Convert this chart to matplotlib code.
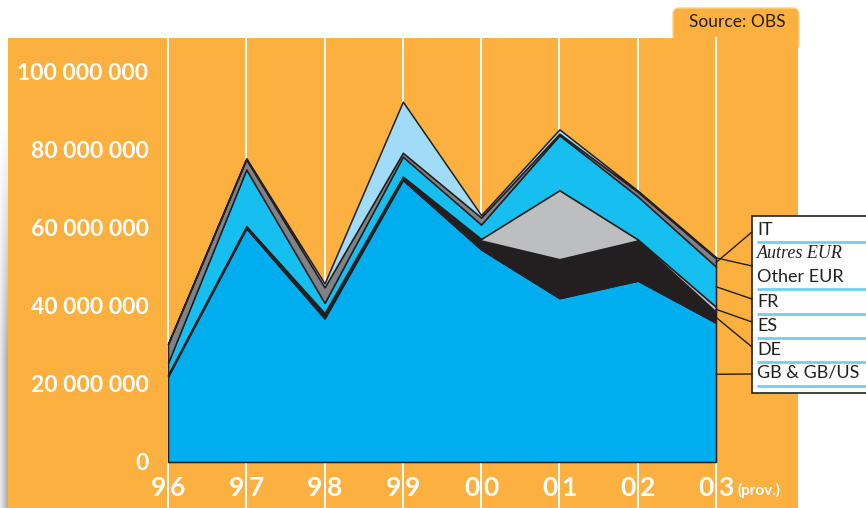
import numpy as np
import matplotlib
matplotlib.use("Agg")
import matplotlib.pyplot as plt
from matplotlib import transforms
from matplotlib.patches import Rectangle, FancyBboxPatch

plt.rcParams['font.family'] = ['Lato', 'DejaVu Sans']

# Данные (млн), снизу вверх
years = [1996, 1997, 1998, 1999, 2000, 2001, 2002, 2003]
year_labels = ["96", "97", "98", "99", "00", "01", "02", "03"]
gb = [21.9, 59.9, 36.8, 72.3, 54.5, 42.0, 46.5, 35.7]
de = [0.3, 0.3, 1.0, 0.5, 2.3, 10.0, 10.3, 2.8]
es = [0.2, 0.3, 0.4, 0.4, 0.4, 17.7, 0.3, 1.3]
fr = [3.0, 14.5, 2.6, 5.1, 3.7, 14.1, 11.0, 10.3]
it = [4.8, 2.6, 4.0, 1.0, 1.8, 0.4, 1.2, 2.1]
other = [0.2, 0.3, 1.0, 13.1, 0.6, 1.1, 0.3, 0.3]
yticks = [0, 20e6, 40e6, 60e6, 80e6, 100e6]

series = [gb, de, es, fr, it, other]
colors = ["#00aeef", "#231f20", "#bcbec0", "#16bff0", "#808285", "#a0dcf7"]

ORANGE = "#fbb040"
DARK = "#231f20"
W, H = 866, 508

fig = plt.figure(figsize=(W / 100, H / 100), dpi=100)

# фон в пиксельных координатах
bg = fig.add_axes([0, 0, 1, 1], zorder=0)
bg.set_xlim(0, W)
bg.set_ylim(H, 0)
bg.axis("off")

# тень слева
grad = np.zeros((100, 20, 4))
hx = np.linspace(0.15, 0.6, 20)[None, :]
vy = np.clip(np.linspace(-0.2, 1.6, 100), 0, 1)[:, None]
grad[..., :3] = 0.45
grad[..., 3] = hx * vy
bg.imshow(grad, extent=(0, 8, H, 70), aspect="auto", zorder=1)

bg.add_patch(FancyBboxPatch((673, 8), 126, 42, boxstyle="round,pad=0,rounding_size=6",
                            facecolor=ORANGE, edgecolor="#fdd08a", lw=1, zorder=1))
bg.add_patch(Rectangle((8, 38), 790, H - 38, facecolor=ORANGE, edgecolor="none", zorder=2))
bg.text(737, 22, "Source: OBS", ha="center", va="center", fontsize=12.5, color=DARK, zorder=3)

# основная ось
x0, x1, y0, y1 = 168, 716, 462, 72
ax = fig.add_axes([x0 / W, (H - y0) / H, (x1 - x0) / W, (y0 - y1) / H], zorder=1)
ax.set_facecolor("none")
ax.set_xlim(1996, 2003)
ax.set_ylim(0, 100e6)
for s in ax.spines.values():
    s.set_visible(False)

ymin = (y0 - H) / (y0 - y1)
ymax = (y0 - 38) / (y0 - y1)
for yr in years:
    ax.axvline(yr, ymin=ymin, ymax=ymax, color="white", lw=1.4, clip_on=False, zorder=0.5)

vals = [np.array(s) * 1e6 for s in series]
polys = ax.stackplot(years, *vals, colors=colors, edgecolor=DARK, linewidth=1.1, zorder=2)
for p in polys:
    p.set_clip_on(False)

ax.set_xticks([])
ax.set_yticks(yticks)
ax.set_yticklabels([f"{int(v):,}".replace(",", " ") for v in yticks],
                   color="white", fontsize=16.5, fontweight="bold")
ax.tick_params(axis="y", length=0, pad=14)

# подписи годов, разрезанные линией
ty = (y0 - 488) / (y0 - y1)
left_tr = transforms.offset_copy(ax.get_xaxis_transform(), fig=fig, x=-2, y=0, units="dots")
right_tr = transforms.offset_copy(ax.get_xaxis_transform(), fig=fig, x=2, y=0, units="dots")
for yr, lab in zip(years, year_labels):
    ax.text(yr, ty, lab[0], transform=left_tr, ha="right", va="center",
            color="white", fontsize=19, fontweight="bold")
    ax.text(yr, ty, lab[1], transform=right_tr, ha="left", va="center",
            color="white", fontsize=19, fontweight="bold")
prov_tr = transforms.offset_copy(ax.get_xaxis_transform(), fig=fig, x=21, y=-2, units="dots")
ax.text(2003, ty, "(prov.)", transform=prov_tr, ha="left", va="center",
        color="white", fontsize=11, fontweight="bold")

# легенда
fg = fig.add_axes([0, 0, 1, 1], zorder=3)
fg.set_facecolor("none")
fg.set_xlim(0, W)
fg.set_ylim(H, 0)
fg.axis("off")

fg.add_patch(Rectangle((752, 216), 130, 177, facecolor="white", edgecolor=DARK, lw=1.2, clip_on=False))
leg_labels = ["IT", "Autres EUR", "Other EUR", "FR", "ES", "DE", "GB & GB/US"]
leg_y = [230, 253, 277, 302, 326, 350, 373]
for lab, y in zip(leg_labels, leg_y):
    if lab == "Autres EUR":
        fg.text(757, y, lab, ha="left", va="center", fontsize=13, color=DARK,
                family="Liberation Serif", style="italic")
    else:
        fg.text(757, y, lab, ha="left", va="center", fontsize=13, color=DARK)
for y in [242, 289, 314, 338, 362, 386]:
    fg.plot([757, W], [y, y], color="#6dcff6", lw=2, solid_capstyle="butt")

# выноски от слоёв к легенде
frac = [0.63, 0.5, 0.5, 0.5, 0.5, 0.5]
targets = [374, 347, 322, 299, 232, 266]
cum = np.cumsum([s[-1] for s in series])
bottoms = np.concatenate([[0], cum[:-1]])
for i in range(len(series)):
    v = (bottoms[i] + frac[i] * series[i][-1]) * 1e6
    dx, dy = ax.transData.transform((2003, v))
    px, py = fg.transData.inverted().transform((dx, dy))
    fg.plot([px, 752], [py, targets[i]], color=DARK, lw=1)

fig.savefig("out.png", dpi=100)
